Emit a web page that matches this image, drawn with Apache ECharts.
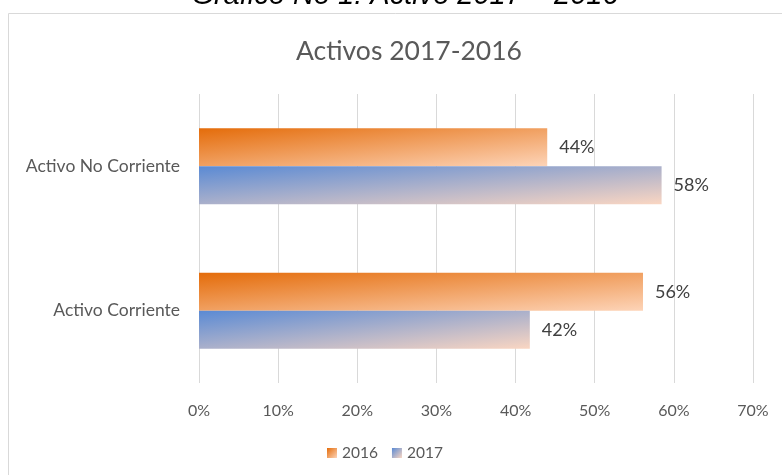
<!DOCTYPE html>
<html>
<head>
<meta charset="utf-8">
<script src="https://cdn.jsdelivr.net/npm/echarts@6/dist/echarts.min.js"></script>
<style>
  html, body { margin: 0; padding: 0; background: #fff; }
  #chart { width: 782px; height: 475px; }
</style>
</head>
<body>
<div id="chart"></div>
<script>
const categories = ['Activo Corriente', 'Activo No Corriente'];
const values2016 = [56.1, 44];
const values2017 = [41.8, 58.45];
const xTicks = [0, 10, 20, 30, 40, 50, 60, 70];

const gridLeft = 199;
const gridRight = 29;
const barH = 38;
const plotW = 782 - gridLeft - gridRight;
const xMax = xTicks[xTicks.length - 1];

// excel-like gradient: diagonal in the bar's own normalized box
function barGradient(v, from, to) {
  const w = v / xMax * plotW;
  const h = barH;
  const d = w * w + h * h;
  return new echarts.graphic.LinearGradient(0, 0, 2 * h * h / d, 2 * w * w / d, [
    { offset: 0, color: from },
    { offset: 1, color: to },
  ]);
}

const orange = ['#E46C0A', '#FDD4B8'];
const blue = ['#5A8AD4', '#FAD6C2'];

const chart = echarts.init(document.getElementById('chart'));

const labelOpt = {
  show: true,
  position: 'right',
  distance: 12,
  color: '#404040',
  fontFamily: 'Lato',
  fontSize: 18,
  formatter: (p) => Math.round(p.value) + '%',
};

chart.setOption({
  animation: false,
  textStyle: { fontFamily: 'Lato' },
  graphic: [
    {
      type: 'rect',
      shape: { x: 8.5, y: 13.5, width: 800, height: 500 },
      style: { fill: 'none', stroke: '#D9D9D9', lineWidth: 1 },
      z: -1,
    },
    {
      type: 'text',
      x: 405,
      y: -4,
      style: {
        text: 'Gráfico No 1: Activo 2017 – 2016',
        fontFamily: 'Liberation Sans',
        fontStyle: 'italic',
        fontSize: 29,
        fill: '#000',
        textAlign: 'center',
        textVerticalAlign: 'middle',
      },
    },
  ],
  title: {
    text: 'Activos 2017-2016',
    left: 291,
    top: 33,
    textStyle: { fontFamily: 'Lato', fontSize: 26.5, fontWeight: 'normal', color: '#595959' },
  },
  legend: {
    data: ['2016', '2017'],
    bottom: 9,
    left: 322,
    itemWidth: 10,
    itemHeight: 10,
    itemGap: 14,
    icon: 'rect',
    textStyle: { fontFamily: 'Lato', fontSize: 15.5, color: '#595959' },
  },
  grid: { left: gridLeft, right: gridRight, top: 94, bottom: 92 },
  xAxis: {
    type: 'value',
    min: 0,
    max: xMax,
    interval: 10,
    axisLine: { show: false },
    axisTick: { show: false },
    axisLabel: { color: '#595959', fontSize: 16, margin: 20, formatter: '{value}%' },
    splitLine: { lineStyle: { color: '#D9D9D9', width: 1 } },
  },
  yAxis: {
    type: 'category',
    data: categories,
    axisLine: { show: false },
    axisTick: { show: false },
    axisLabel: { color: '#595959', fontSize: 17.5, margin: 19 },
  },
  series: [
    {
      name: '2016',
      type: 'bar',
      barWidth: barH,
      barGap: '0%',
      itemStyle: { color: new echarts.graphic.LinearGradient(0, 0, 1, 1, [
        { offset: 0, color: orange[0] }, { offset: 1, color: orange[1] }]) },
      label: labelOpt,
      data: values2016.map((v) => ({ value: v, itemStyle: { color: barGradient(v, orange[0], orange[1]) } })),
    },
    {
      name: '2017',
      type: 'bar',
      barWidth: barH,
      barGap: '0%',
      itemStyle: { color: new echarts.graphic.LinearGradient(0, 0, 1, 1, [
        { offset: 0, color: blue[0] }, { offset: 1, color: blue[1] }]) },
      label: labelOpt,
      data: values2017.map((v) => ({ value: v, itemStyle: { color: barGradient(v, blue[0], blue[1]) } })),
    },
  ],
});
</script>
</body>
</html>
